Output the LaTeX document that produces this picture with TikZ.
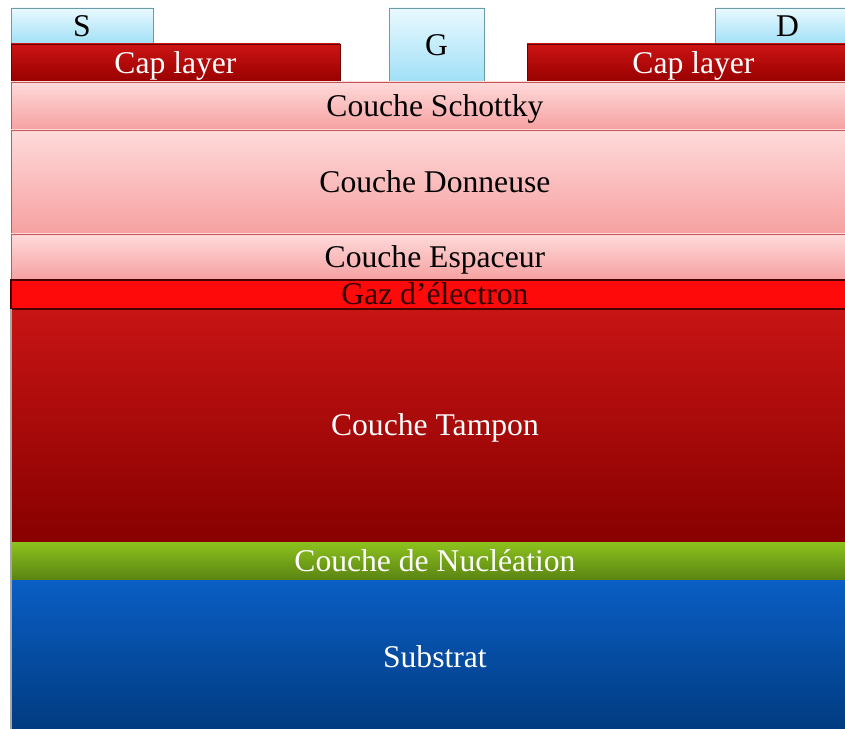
\documentclass[tikz,border=0pt]{standalone}
\usepackage{fontspec}
\setmainfont{Liberation Serif}
\usetikzlibrary{positioning}

% colours of the layers
\definecolor{contactTop}{HTML}{EAF9FF}
\definecolor{contactBot}{HTML}{A0E0F6}
\definecolor{contactLine}{HTML}{6A9CA8}
\definecolor{capTop}{HTML}{CC1414}
\definecolor{capBot}{HTML}{980000}
\definecolor{pinkTop}{HTML}{FFDADA}
\definecolor{pinkBot}{HTML}{F6A0A0}
\definecolor{pinkLine}{HTML}{C45656}
\definecolor{gazRed}{HTML}{FF0A0A}
\definecolor{gazLine}{HTML}{4A0000}
\definecolor{tamponTop}{HTML}{C81414}
\definecolor{tamponBot}{HTML}{880000}
\definecolor{nuclTop}{HTML}{8CC21E}
\definecolor{nuclBot}{HTML}{5A8412}
\definecolor{subTop}{HTML}{0A5EC4}
\definecolor{subBot}{HTML}{003A7E}

\tikzset{
    layer/.style={anchor=north west, inner sep=0pt, outer sep=0pt,
        text height=14pt, text depth=2.4pt,
        font=\fontsize{18}{20}\selectfont},
    contact/.style={layer, draw=contactLine, top color=contactTop,
        bottom color=contactBot, text=black},
    caplayer/.style={layer, draw=capBot!70!black, top color=capTop,
        bottom color=capBot, text=white},
    pink/.style={layer, draw=pinkLine, top color=pinkTop,
        bottom color=pinkBot, text=black},
    dark/.style={layer, draw=none, text=white},
}

\begin{document}
\begin{tikzpicture}[x=0.02cm, y=-0.02cm]
    \useasboundingbox (0,0) rectangle (845,729);

    % contacts
    \node[contact, minimum width=2.84cm, minimum height=0.72cm] (source) at (11,8) {S};
    \node[contact, minimum width=1.9cm, minimum height=1.48cm] (gate) at (389,8) {G};
    \node[contact, minimum width=2.9cm, minimum height=0.72cm] (drain) at (715,8) {D};

    % cap layers
    \node[caplayer, minimum width=6.58cm, minimum height=0.76cm] (capL) at (11,44) {Cap layer};
    \node[caplayer, minimum width=6.66cm, minimum height=0.76cm] (capR) at (527,44) {Cap layer};

    % epitaxial stack
    \node[pink, minimum width=16.96cm, minimum height=0.96cm] (schottky) at (11,82) {Couche Schottky};
    \node[pink, minimum width=16.96cm, minimum height=2.08cm] (donneuse) at (11,130) {Couche Donneuse};
    \node[pink, minimum width=16.96cm, minimum height=0.92cm] (espaceur) at (11,234) {Couche Espaceur};
    \node[dark, top color=tamponTop, bottom color=tamponBot,
        minimum width=16.96cm, minimum height=4.66cm] (tampon) at (11,309) {Couche Tampon};
    \node[layer, draw=gazLine, line width=1.2pt, fill=gazRed, text=gazLine!60!black,
        minimum width=16.96cm, minimum height=0.58cm] (gaz) at (11,280) {Gaz d’électron};
    \node[dark, top color=nuclTop, bottom color=nuclBot,
        minimum width=16.96cm, minimum height=0.76cm] (nucleation) at (11,542) {Couche de Nucléation};
    \node[dark, top color=subTop, bottom color=subBot,
        minimum width=16.96cm, minimum height=3.08cm] (substrat) at (11,580) {Substrat};

    % left edge
    \draw[gray!70, line width=0.8pt] (tampon.north west) -- (substrat.south west);
\end{tikzpicture}
\end{document}
